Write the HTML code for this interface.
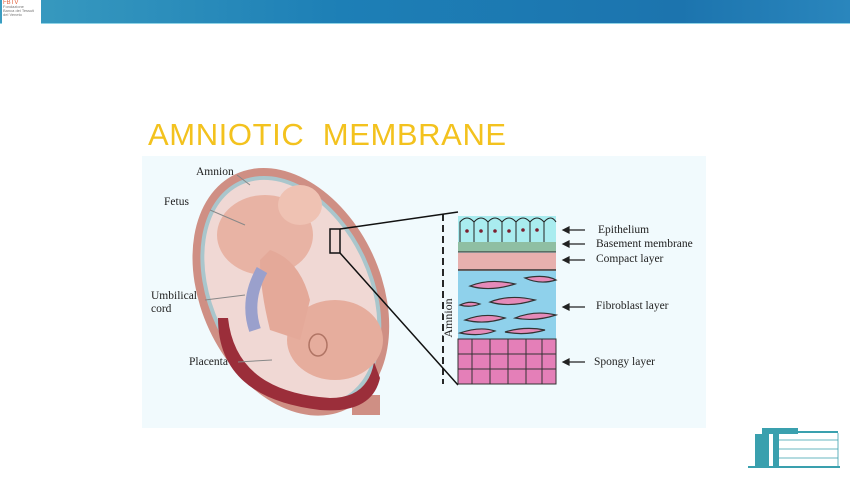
<!DOCTYPE html>
<html><head><meta charset="utf-8"><style>
body{margin:0;width:850px;height:478px;background:#fff;position:relative;overflow:hidden;font-family:"Liberation Serif",serif}
.hdr{position:absolute;left:0;top:0;width:850px;height:23px;background:linear-gradient(90deg,#3a9cc0,#1d7fb6 40%,#1c74ae 80%,#2a86bd);border-bottom:1px solid #8fd3e6}
.logo{position:absolute;left:2px;top:0;width:37px;height:22px;background:#fff;font:4px "Liberation Sans",sans-serif;color:#777;line-height:4px;padding:1px;overflow:hidden}
.title{position:absolute;left:148px;top:117px;font:31px "Liberation Sans",sans-serif;color:#f3c21e;letter-spacing:0.6px;white-space:pre}
.lbl{position:absolute;font-size:11.5px;color:#222;line-height:13px}
</style></head><body>
<div class="hdr"></div>
<div class="logo"><span style="color:#e0603a;font-size:6px">FBTV</span><br>Fondazione<br>Banca dei Tessuti<br>del Veneto</div>
<div class="title">AMNIOTIC  MEMBRANE</div>
<svg style="position:absolute;left:0;top:0" width="850" height="478">
<rect x="142" y="156" width="564" height="272" fill="#f1fafd"/>
<g transform="rotate(-25 290 290)">
<ellipse cx="290" cy="292" rx="90" ry="130" fill="#cf8f84"/>
<ellipse cx="290" cy="292" rx="82" ry="122" fill="#a9c6cc"/>
<ellipse cx="290" cy="292" rx="78" ry="118" fill="#f0d8d4"/>
</g>
<rect x="352" y="395" width="28" height="20" fill="#cf8f84"/>
<path d="M228 318 Q236 392 330 398 Q368 398 374 362 L380 378 Q372 414 320 410 Q218 398 218 318Z" fill="#9b2e3a"/>
<ellipse cx="265" cy="235" rx="48" ry="40" fill="#e8b3a4"/>
<ellipse cx="300" cy="205" rx="22" ry="20" fill="#efc2b3"/>
<ellipse cx="335" cy="340" rx="48" ry="40" fill="#e6ad9d"/>
<path d="M270 250 Q300 260 310 300 L300 340 L270 330 Q260 290 260 260Z" fill="#e4a999"/>
<path d="M262 270 Q245 300 255 330" stroke="#9aa0cc" stroke-width="12" fill="none"/>
<ellipse cx="318" cy="345" rx="9" ry="11" fill="none" stroke="#b07464" stroke-width="1.5"/>
<rect x="330" y="229" width="10" height="24" fill="none" stroke="#111" stroke-width="1.5"/>
<path d="M340 229 L458 212 M340 253 L458 385" stroke="#111" stroke-width="1.5"/>
<path d="M443 214 V384" stroke="#111" stroke-width="1.8" stroke-dasharray="7 4"/>
<rect x="458" y="216" width="98" height="26" fill="#a9ecef"/>
<g fill="none" stroke="#222" stroke-width="1"><path d="M460 242 V222 Q467 214 474 222 Q481 214 488 222 Q495 214 502 222 Q509 214 516 222 Q523 214 530 222 Q537 214 544 222 Q551 214 556 222"/><path d="M474 222 V242 M488 222 V242 M502 222 V242 M516 222 V242 M530 222 V242 M544 222 V242"/></g>
<g fill="#7a2030"><circle cx="467" cy="231" r="1.8"/><circle cx="481" cy="231" r="1.8"/><circle cx="495" cy="231" r="1.8"/><circle cx="509" cy="231" r="1.8"/><circle cx="523" cy="230" r="1.8"/><circle cx="537" cy="230" r="1.8"/></g>
<rect x="458" y="242" width="98" height="10" fill="#8fbfa3"/>
<path d="M458 252 H556" stroke="#222"/>
<rect x="458" y="253" width="98" height="17" fill="#e7b0ae"/>
<path d="M458 270 H556" stroke="#333" stroke-width="1.5"/>
<rect x="458" y="271" width="98" height="68" fill="#8fd1eb"/>
<g fill="#e58ab9" stroke="#333" stroke-width="1.2">
<path d="M470 286 Q490 278 515 284 Q490 292 470 286Z"/><path d="M525 278 Q545 274 556 280 Q540 285 525 278Z"/>
<path d="M490 302 Q510 294 535 300 Q510 308 490 302Z"/><path d="M460 305 Q470 300 480 304 Q470 308 460 305Z"/>
<path d="M465 320 Q485 312 505 318 Q485 325 465 320Z"/><path d="M515 318 Q535 310 556 315 Q535 322 515 318Z"/>
<path d="M460 333 Q480 326 495 331 Q480 337 460 333Z"/><path d="M505 332 Q525 326 545 330 Q525 336 505 332Z"/>
</g>
<rect x="458" y="339" width="98" height="45" fill="#e47fb8" stroke="#333"/>
<g stroke="#333" fill="none"><path d="M458 354 H556 M458 369 H556 M472 339 V384 M490 339 V384 M508 339 V384 M526 339 V384 M542 339 V384"/></g>
<g fill="#222" stroke="#222" stroke-width="1.2">
<path d="M585 230 H568"/><path d="M563 230 l6 -3 v6z"/>
<path d="M585 244 H568"/><path d="M563 244 l6 -3 v6z"/>
<path d="M585 260 H568"/><path d="M563 260 l6 -3 v6z"/>
<path d="M585 307 H568"/><path d="M563 307 l6 -3 v6z"/>
<path d="M585 362 H568"/><path d="M563 362 l6 -3 v6z"/>
</g>
<g stroke="#888" stroke-width="1"><path d="M237 175 L250 185 M210 210 L245 225 M205 300 L245 295 M238 362 L272 360"/></g>
<text x="448" y="318" font-size="12" font-family="Liberation Serif" fill="#222" transform="rotate(-90 448 318)" text-anchor="middle" dy="4" style="paint-order:stroke" stroke="#f1fafd" stroke-width="4">Amnion</text>
<g fill="#3aa0ae"><rect x="762" y="428" width="36" height="6"/><rect x="755" y="434" width="14" height="33"/><rect x="773" y="434" width="6" height="33"/><rect x="748" y="466" width="92" height="2"/><rect x="778" y="431" width="60" height="2"/></g>
<g stroke="#3aa0ae" stroke-width="0.8"><path d="M779 440 H838 M779 449 H838 M779 458 H838 M838 433 V466"/></g>
</svg>
<div class="lbl" style="left:196px;top:166px">Amnion</div>
<div class="lbl" style="left:164px;top:196px">Fetus</div>
<div class="lbl" style="left:151px;top:290px">Umbilical<br>cord</div>
<div class="lbl" style="left:189px;top:356px">Placenta</div>
<div class="lbl" style="left:598px;top:224px">Epithelium</div>
<div class="lbl" style="left:596px;top:238px">Basement membrane</div>
<div class="lbl" style="left:596px;top:253px">Compact layer</div>
<div class="lbl" style="left:596px;top:300px">Fibroblast layer</div>
<div class="lbl" style="left:594px;top:356px">Spongy layer</div>
</body></html>
